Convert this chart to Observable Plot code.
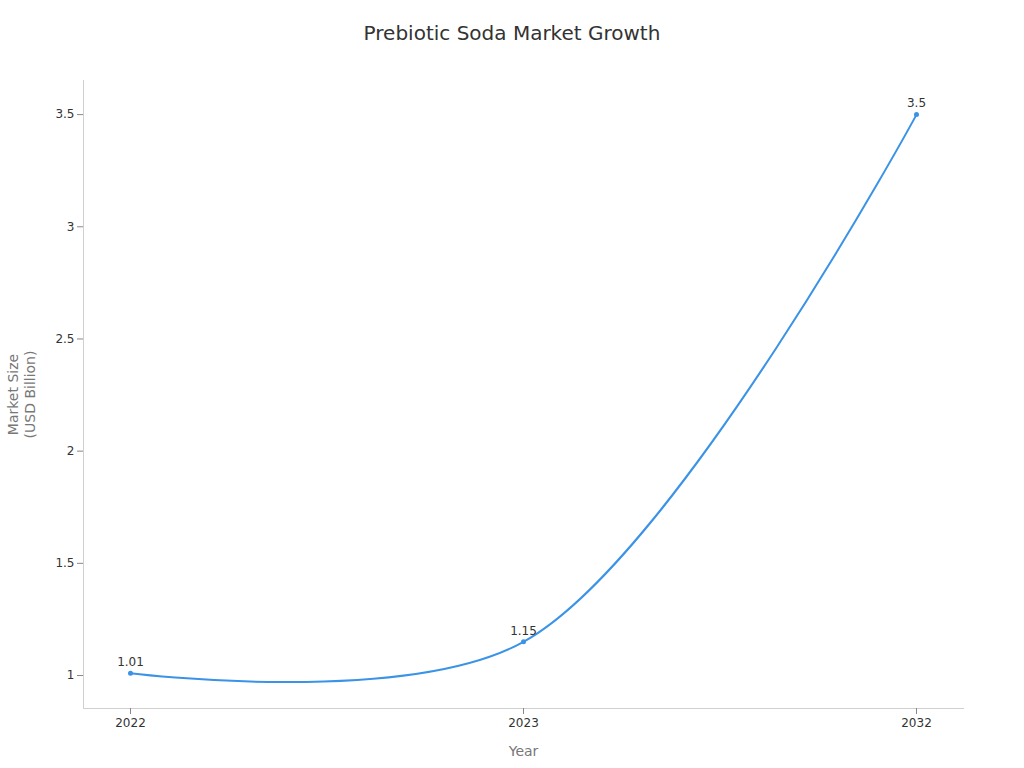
<!DOCTYPE html>
<html>
<head>
<meta charset="utf-8">
<script src="https://cdn.jsdelivr.net/npm/d3@7"></script>
<script src="https://cdn.jsdelivr.net/npm/@observablehq/plot@0.6"></script>
<style>
  html, body { margin: 0; padding: 0; background: #fff; }
  body { width: 1024px; height: 768px; overflow: hidden; font-family: "DejaVu Sans", sans-serif; }
  #title { height: 60px; line-height: 66px; text-align: center; font-size: 20px; color: #333; }
</style>
</head>
<body>
<div id="title">Prebiotic Soda Market Growth</div>
<div id="chart"></div>
<script>
const years = ["2022", "2023", "2032"];
const marketSize = [1.01, 1.15, 3.5];
const yTicks = [1, 1.5, 2, 2.5, 3, 3.5];
const xTitle = "Year";
const yTitle = "Market Size\n(USD Billion)";

const data = years.map((y, i) => ({year: y, value: marketSize[i]}));
const blue = "#3a93e6";

const chart = Plot.plot({
  width: 1024,
  height: 708,
  marginTop: 20,
  marginBottom: 60,
  marginLeft: 83,
  marginRight: 61,
  style: {fontFamily: "DejaVu Sans, sans-serif", fontSize: "12px", color: "#333", background: "#fff"},
  x: {type: "point", domain: years, padding: 0.117, label: null},
  y: {domain: [0.853, 3.652], label: null},
  marks: [
    Plot.frame({anchor: "left", stroke: "#d0d0d0"}),
    Plot.frame({anchor: "bottom", stroke: "#d0d0d0"}),
    Plot.axisY(yTicks, {tickSize: 6, tickPadding: 3, stroke: "#888", fill: "#333", fontSize: 12, label: null, tickFormat: d => String(d)}),
    Plot.axisX({tickSize: 6, tickPadding: 4, stroke: "#888", fill: "#333", fontSize: 12, label: null}),
    Plot.line(data, {x: "year", y: "value", curve: "catmull-rom", stroke: blue, strokeWidth: 2}),
    Plot.dot(data, {x: "year", y: "value", r: 2.5, fill: blue}),
    Plot.text(data, {x: "year", y: "value", text: d => String(d.value), dy: -11, fill: "#333", fontSize: 12}),
    Plot.text([xTitle], {frameAnchor: "bottom", dy: 43, fill: "#777", fontSize: 14, lineAnchor: "middle"}),
    Plot.text([yTitle], {frameAnchor: "left", dx: -62, rotate: -90, fill: "#777", fontSize: 14, lineAnchor: "middle", textAnchor: "middle", lineHeight: 1.2})
  ]
});
document.getElementById("chart").appendChild(chart);
</script>
</body>
</html>
